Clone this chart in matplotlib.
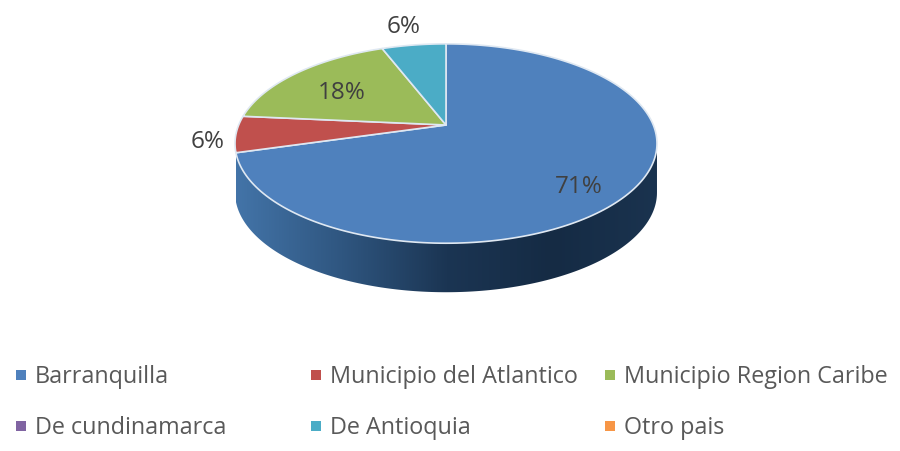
import numpy as np
import matplotlib
matplotlib.use('Agg')
import matplotlib.pyplot as plt
from matplotlib.colors import LinearSegmentedColormap
from matplotlib.patches import Polygon

# Survey counts behind the percentages
categories = ['Barranquilla', 'Municipio del Atlantico', 'Municipio Region Caribe',
              'De cundinamarca', 'De Antioquia', 'Otro pais']
counts = [12, 1, 3, 0, 1, 0]
pct_labels = ['71%', '6%', '18%', '', '6%', '']
colors = ['#4f81bd', '#c0504d', '#9bbb59', '#8064a2', '#4bacc6', '#f79646']

# layout in pixels
cx, cy = 446, 126
a, c, d = 72.8, -0.186, 207.3
depth = 49
label_pos = [(579, 187), (208, 142), (342, 93), None, (404, 27), None]
legend_x = [35, 330, 624]
legend_y = [377, 428]


# tilted circle -> screen pixels, angle runs clockwise from the top
def project(theta):
    x = np.sin(theta)
    y = -np.cos(theta)
    w = 1 + c * y
    return cx + d * x / w, (a * y + cy) / w


plt.rcParams['font.family'] = ['Open Sans', 'DejaVu Sans']
fig = plt.figure(figsize=(9, 4.52), dpi=100)
ax = fig.add_axes([0, 0, 1, 1])
ax.set_xlim(0, 900)
ax.set_ylim(452, 0)
ax.axis('off')

fracs = np.array(counts) / sum(counts)
edges = np.concatenate([[0], np.cumsum(fracs)]) * 2 * np.pi

# side wall of the front half, only the first slice reaches it
t = np.linspace(np.pi * 0.56, edges[1], 200)
px, py = project(t)
wall = np.concatenate([np.column_stack([px, py]),
                       np.column_stack([px[::-1], py[::-1] + depth])])
wall_patch = Polygon(wall, closed=True, fc='none', ec='none')
ax.add_patch(wall_patch)
cmap = LinearSegmentedColormap.from_list('wall', ['#4374a8', '#2f5680', '#1b3553', '#152b44', '#1a334f'])
grad = ax.imshow(np.linspace(0, 1, 256).reshape(1, -1), cmap=cmap, aspect='auto',
                 extent=[px.min(), px.max(), 300, 100], zorder=1)
grad.set_clip_path(wall_patch)
ax.set_xlim(0, 900)
ax.set_ylim(452, 0)

# top face
for i, col in enumerate(colors):
    if counts[i] == 0:
        continue
    t = np.linspace(edges[i], edges[i + 1], 200)
    px, py = project(t)
    pts = np.column_stack([np.r_[cx, px], np.r_[cy, py]])
    ax.add_patch(Polygon(pts, closed=True, fc=col, ec='#dfe8f2', lw=1.2, zorder=2, joinstyle='round'))

for lab, pos in zip(pct_labels, label_pos):
    if pos:
        ax.text(pos[0], pos[1], lab, fontsize=17.5, color='#404040', ha='center', va='center', zorder=3)

# legend, three columns by two rows
for i, name in enumerate(categories):
    x = legend_x[i % 3]
    y = legend_y[i // 3]
    ax.scatter([x - 14], [y - 1], marker='s', s=42, color=colors[i], linewidths=0, zorder=3)
    ax.text(x, y, name, fontsize=16.8, color='#595959', ha='left', va='center', zorder=3)

fig.savefig('out.png', dpi=100)
